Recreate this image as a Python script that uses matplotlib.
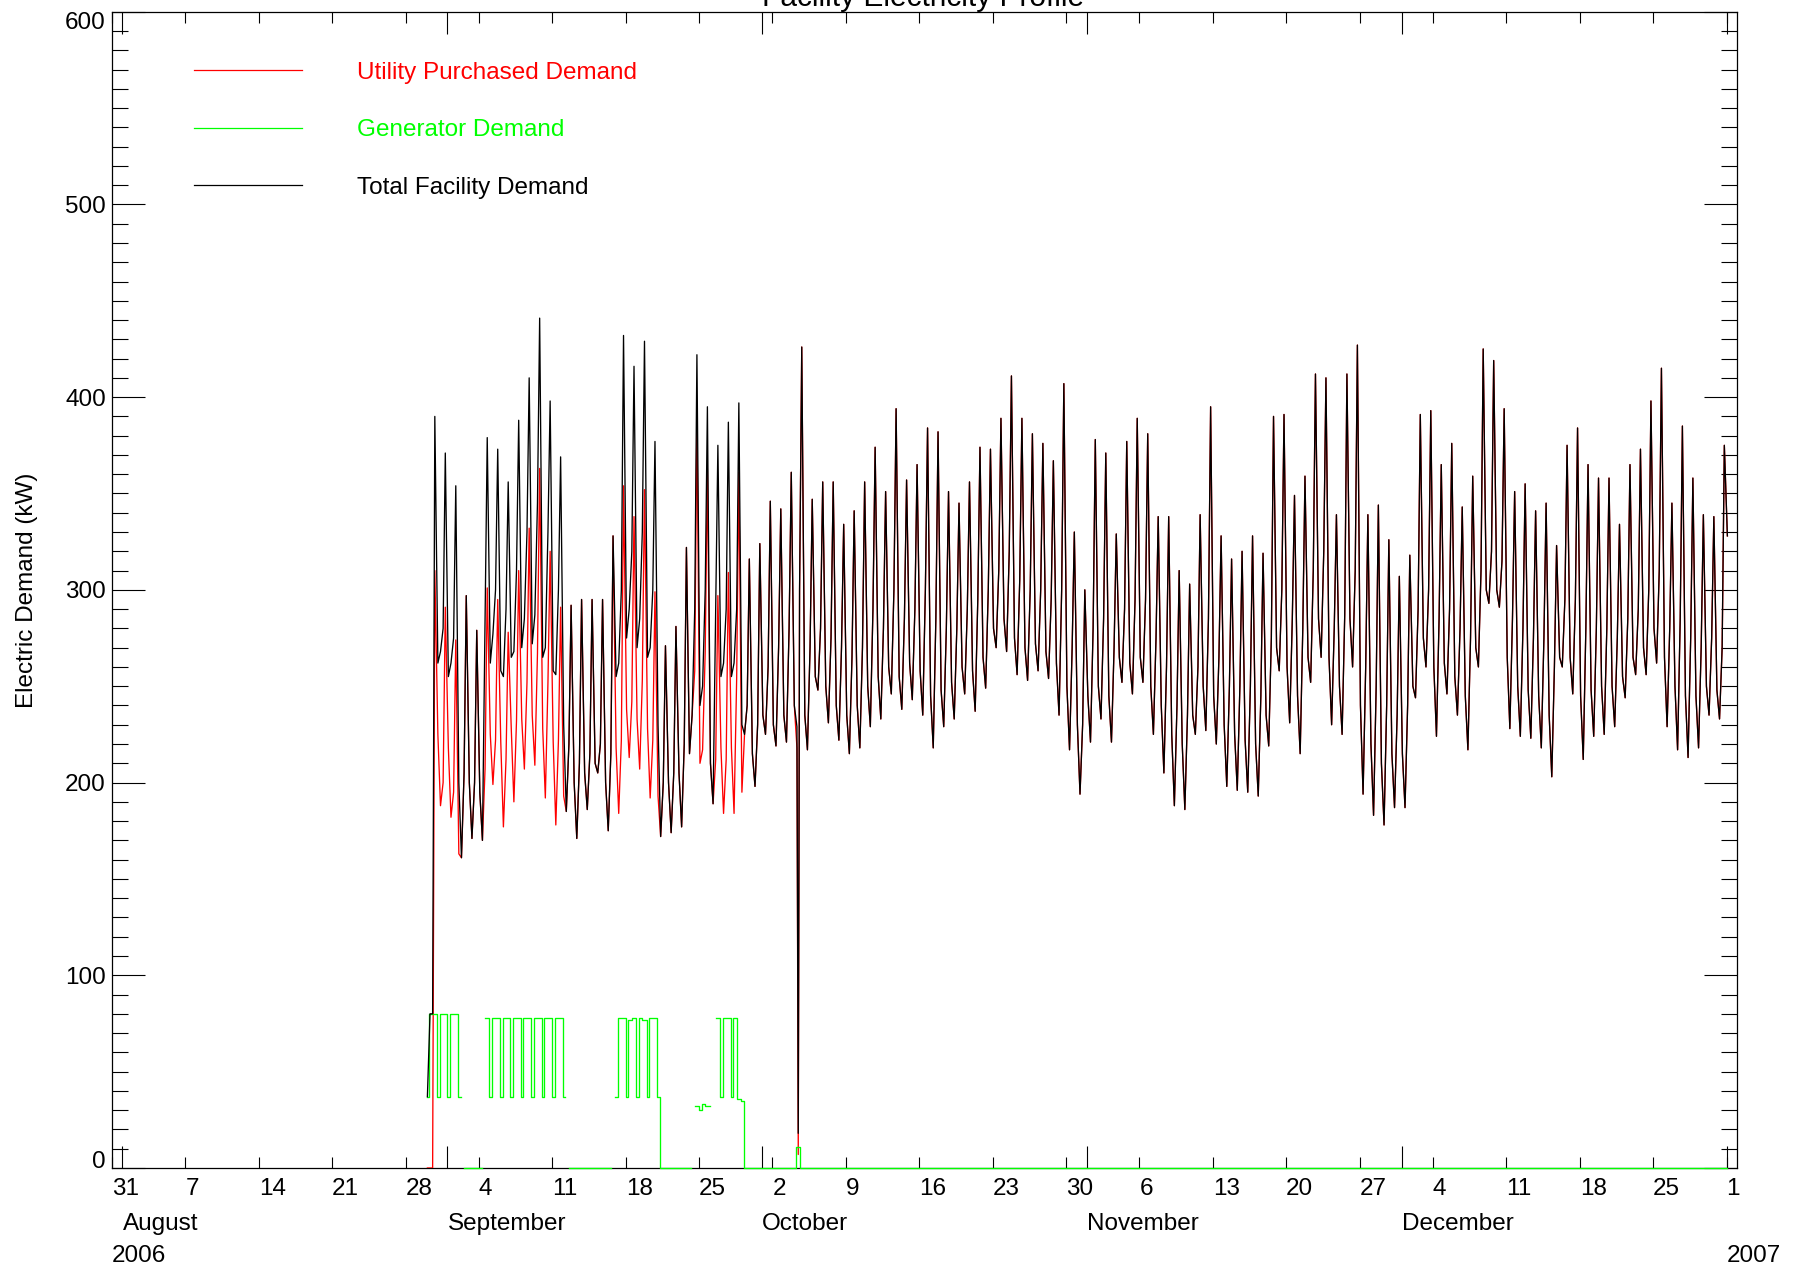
import numpy as np
import pandas as pd
import matplotlib
matplotlib.use("Agg")
import matplotlib.pyplot as plt
import matplotlib.dates as mdates

plt.rcParams["font.family"] = ["Liberation Sans", "DejaVu Sans"]

# ---- data (kW), one row per day: values at 02h, 08h, 14h, 19h ----
sample_hours = [2, 8, 14, 19]
first_day = "2006-08-30"

aug_total = [
    [37, 80, 80, 390], [262, 268, 280, 371],
]
sep_total = [
    [255, 262, 275, 354], [200, 161, 205, 297], [200, 171, 200, 279], [195, 170, 285, 379],
    [262, 277, 300, 373], [258, 255, 290, 356], [265, 268, 310, 388], [270, 285, 330, 410],
    [272, 287, 345, 441], [265, 270, 330, 398], [258, 256, 300, 369], [230, 185, 220, 292],
    [200, 171, 210, 295], [205, 186, 215, 295], [210, 205, 220, 295], [200, 175, 215, 328],
    [255, 262, 300, 432], [275, 290, 320, 416], [270, 285, 330, 429], [265, 270, 300, 377],
    [230, 172, 200, 271], [200, 174, 205, 281], [205, 177, 220, 322], [215, 235, 290, 422],
    [240, 250, 300, 395], [210, 189, 290, 375], [255, 262, 290, 387], [255, 262, 290, 397],
    [230, 225, 240, 316], [215, 198, 230, 324],
]
oct_total = [
    [235, 225, 260, 346], [230, 219, 270, 342], [235, 221, 280, 361], [240, 229, 300, 426],
    [235, 217, 270, 347], [255, 248, 280, 356], [250, 231, 275, 356], [240, 222, 270, 334],
    [235, 215, 265, 341], [240, 218, 270, 356], [250, 229, 290, 374], [255, 233, 280, 351],
    [260, 246, 300, 394], [255, 238, 285, 357], [262, 243, 290, 365], [258, 235, 300, 384],
    [245, 218, 285, 382], [248, 229, 280, 351], [252, 233, 280, 345], [260, 246, 290, 356],
    [258, 237, 295, 374], [265, 249, 300, 373], [280, 270, 310, 389], [285, 268, 320, 411],
    [275, 256, 305, 389], [270, 253, 300, 381], [272, 258, 300, 376], [268, 254, 295, 367],
    [262, 235, 300, 407], [250, 217, 270, 330], [230, 194, 230, 300],
]
nov_total = [
    [245, 221, 280, 378], [250, 233, 285, 371], [245, 221, 270, 329], [265, 252, 290, 377],
    [262, 246, 295, 389], [265, 252, 295, 381], [250, 225, 275, 338], [240, 205, 260, 338],
    [225, 188, 240, 310], [220, 186, 235, 303], [235, 225, 260, 339], [250, 227, 285, 395],
    [245, 220, 265, 328], [230, 198, 250, 316], [225, 196, 250, 320], [222, 195, 250, 328],
    [220, 193, 245, 319], [235, 219, 275, 390], [270, 258, 300, 391], [260, 231, 285, 349],
    [245, 215, 280, 359], [265, 252, 310, 412], [285, 265, 320, 410], [265, 230, 280, 339],
    [250, 225, 287, 412], [285, 260, 310, 427], [240, 194, 260, 339], [220, 183, 250, 344],
    [210, 178, 240, 326], [215, 187, 235, 307],
]
dec_total = [
    [215, 187, 240, 318], [250, 244, 290, 391], [275, 260, 300, 393], [260, 224, 285, 365],
    [262, 246, 290, 376], [255, 235, 280, 343], [245, 217, 275, 359], [270, 260, 310, 425],
    [300, 293, 320, 419], [300, 291, 315, 394], [265, 228, 285, 351], [250, 224, 280, 355],
    [248, 223, 275, 341], [245, 218, 275, 345], [235, 203, 260, 323], [265, 260, 295, 375],
    [265, 246, 295, 384], [245, 212, 280, 365], [248, 224, 280, 358], [250, 225, 280, 358],
    [250, 229, 275, 334], [255, 244, 285, 365], [265, 256, 290, 373], [270, 256, 300, 398],
    [280, 262, 310, 415], [265, 229, 280, 345], [250, 217, 285, 385], [245, 213, 275, 358],
    [245, 218, 270, 339], [250, 235, 275, 338], [248, 233, 270, 375],
]
# extra readings: a short outage on 4 Oct and the last reading on 1 Jan
dropout_time, dropout_total = "2006-10-04 11:00", 18
end_time, end_total = "2007-01-01 02:00", 328

# generator, one row per day from 30 Aug: level from 00h, 06h, 14h (None = no data)
gen_hours = [0, 6, 14]
gen_rows = [
    [37, 80, 80], [37, 80, 80], [37, 80, 80], [37, None, 0], [0, 0, 0], [0, None, 78],
    [37, 78, 78], [37, 78, 78], [37, 78, 78], [37, 78, 78], [37, 78, 78], [37, 78, 78],
    [37, 78, 78], [37, None, 0], [0, 0, 0], [0, 0, 0], [0, 0, 0], [0, 0, None],
    [37, 78, 78], [37, 77, 78], [37, 78, 77], [37, 78, 78], [37, 0, 0], [0, 0, 0],
    [0, 0, 0], [0, None, 32], [30, 33, 32], [None, None, 78], [37, 78, 78], [37, 78, 36],
    [35, 0, 0], [0, 0, 0], [0, 0, 0], [0, 0, 0], [0, 0, 0], [0, 11, 0], [0, 0, 0],
]

week_labels = ["31", "7", "14", "21", "28", "4", "11", "18", "25", "2", "9", "16",
               "23", "30", "6", "13", "20", "27", "4", "11", "18", "25", "1"]
month_names = ["August", "September", "October", "November", "December"]
month_starts = ["2006-08-01", "2006-09-01", "2006-10-01", "2006-11-01", "2006-12-01", "2007-01-01"]

# ---- build time series ----
total_rows = aug_total + sep_total + oct_total + nov_total + dec_total
days = pd.date_range(first_day, periods=len(total_rows), freq="D")
t_total = [d + pd.Timedelta(hours=h) for d in days for h in sample_hours]
total = pd.Series(np.array(total_rows, dtype=float).ravel(), index=pd.DatetimeIndex(t_total))
total[pd.Timestamp(dropout_time)] = dropout_total
total[pd.Timestamp(end_time)] = end_total
total = total.sort_index()

gdays = pd.date_range(first_day, periods=len(gen_rows), freq="D")
t_gen = [d + pd.Timedelta(hours=h) for d in gdays for h in gen_hours]
gen_vals = [np.nan if v is None else v for row in gen_rows for v in row]
gen = pd.Series(gen_vals, index=pd.DatetimeIndex(t_gen), dtype=float)
gen[pd.Timestamp(end_time)] = 0.0

gen_at = gen.fillna(0).reindex(total.index, method="ffill").fillna(0)
utility = total - gen_at

# ---- figure ----
W, H = 1801, 1272
fig = plt.figure(figsize=(W / 100, H / 100), dpi=100)
L, R, T, B = 112, 1737, 11.7, 1168
ax = fig.add_axes([L / W, 1 - B / H, (R - L) / W, (B - T) / H])

red, green = (1, 0, 0), (0, 1, 0)
ax.plot(utility.index, utility.values, color=red, lw=0.95, zorder=3)
ax.plot(gen.index, gen.values, color=green, lw=0.95, drawstyle="steps-post", zorder=4, clip_on=False)
ax.plot(total.index, total.values, color="black", lw=0.95, zorder=5)

x0, x1 = pd.Timestamp("2006-07-31"), pd.Timestamp("2007-01-02")
ax.set_xlim(x0, x1)
ax.set_ylim(0, 600)

fs = 17.5
weeks = pd.date_range("2006-07-31", "2007-01-01", freq="7D")
ax.set_xticks(mdates.date2num(weeks))
ax.set_xticklabels(week_labels, ha="left", fontsize=fs)
ax.set_xticks(mdates.date2num(pd.DatetimeIndex(month_starts)), minor=True)
ax.xaxis.remove_overlapping_locs = False
ax.tick_params(axis="x", which="major", direction="in", length=7.9, width=0.8,
               top=True, bottom=True, pad=7.3)
ax.tick_params(axis="x", which="minor", direction="in", length=15.8, width=0.8,
               top=True, bottom=True)

ax.set_yticks(np.arange(0, 601, 100))
ax.set_yticklabels([str(v) for v in range(0, 601, 100)], fontsize=fs)
ax.set_yticks(np.arange(0, 601, 10), minor=True)
ax.tick_params(axis="y", which="major", direction="in", length=23.8, width=0.8,
               left=True, right=True, pad=4.5)
ax.tick_params(axis="y", which="minor", direction="in", length=11.5, width=0.8,
               left=True, right=True)
ylabs = ax.get_yticklabels()
ylabs[0].set_va("baseline")
ylabs[-1].set_va("top")

for s in ax.spines.values():
    s.set_linewidth(0.9)

# month and year labels under the day numbers
xtr = ax.get_xaxis_transform()
for name, start in zip(month_names, month_starts):
    ax.text(pd.Timestamp(start), (B - 1230) / (B - T), name, transform=xtr,
            ha="left", va="baseline", fontsize=fs)
ax.text(x0, (B - 1262) / (B - T), "2006", transform=xtr, ha="left", va="baseline", fontsize=fs)
ax.text(pd.Timestamp("2007-01-01"), (B - 1262) / (B - T), "2007", transform=xtr,
        ha="left", va="baseline", fontsize=fs)

# legend drawn by hand
legend = [("Utility Purchased Demand", red), ("Generator Demand", green),
          ("Total Facility Demand", "black")]
for i, (lab, col) in enumerate(legend):
    yy = 1 - (70 + 57.5 * i - T) / (B - T)
    ax.plot([0.0505, 0.117], [yy, yy], transform=ax.transAxes, color=col, lw=0.9)
    ax.text(0.1508, yy, lab, transform=ax.transAxes, color=col, fontsize=17.5,
            va="center_baseline", ha="left")

fig.text(923 / W, 1 - 6 / H, "Facility Electricity Profile", ha="center", va="baseline",
         fontsize=21.5)
fig.text(27.5 / W, 1 - 590 / H, "Electric Demand (kW)", rotation=90, ha="center",
         va="center", fontsize=17.5)

fig.savefig("out.png", dpi=100)
